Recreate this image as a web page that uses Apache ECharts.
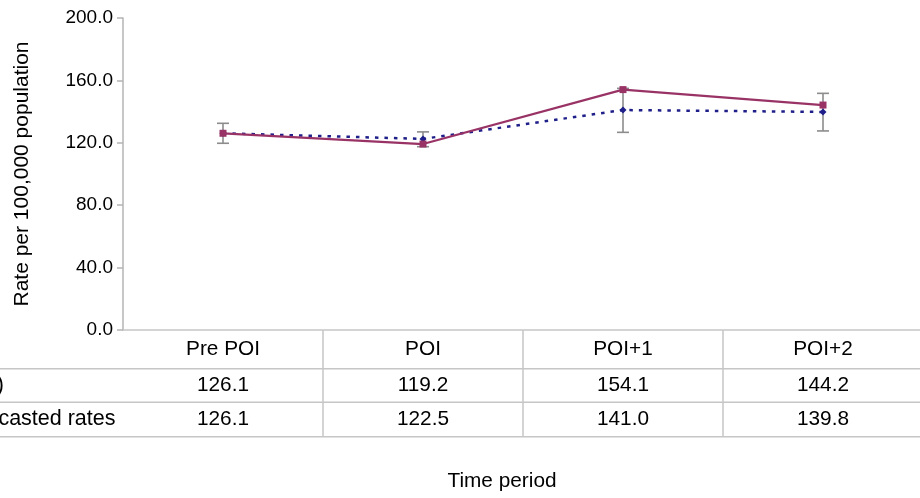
<!DOCTYPE html>
<html>
<head>
<meta charset="utf-8">
<script src="https://cdn.jsdelivr.net/npm/echarts@6/dist/echarts.min.js"></script>
<style>
  html, body { margin: 0; padding: 0; background: #fff; }
  #chart { width: 920px; height: 498px; }
</style>
</head>
<body>
<div id="chart"></div>
<script>
// Time periods around the point of intervention
const categories = ['Pre POI', 'POI', 'POI+1', 'POI+2'];
// Rates per 100,000 population
const observedRates = [126.1, 119.2, 154.1, 144.2];
const forecastRates = [126.1, 122.5, 141.0, 139.8];
// Interval around the forecasted rates
const forecastLow = [119.7, 117.5, 126.7, 127.6];
const forecastHigh = [132.5, 127.0, 154.9, 151.7];
// Data table row labels
const rowLabels = ['Observed rates (actual)', 'Forecasted rates'];
const rowValues = [observedRates, forecastRates];

const FONT = 'Liberation Sans, Arial, sans-serif';
const GRID_LINE = '#c6c6c6';
const TABLE_FONT = 20.8;

const chart = echarts.init(document.getElementById('chart'), null, { renderer: 'canvas' });

const errorBarData = categories.map((c, i) => [i, forecastLow[i], forecastHigh[i]]);

chart.setOption({
  animation: false,
  backgroundColor: '#fff',
  grid: { left: 123, top: 18, width: 800, height: 312, containLabel: false, outerBoundsMode: 'none' },
  xAxis: {
    type: 'category',
    data: categories,
    boundaryGap: true,
    axisLine: { lineStyle: { color: GRID_LINE, width: 1.5 } },
    axisTick: { show: false },
    axisLabel: { show: false },
    splitLine: { show: false }
  },
  yAxis: {
    type: 'value',
    min: 0,
    max: 200,
    interval: 40,
    name: 'Rate per 100,000 population',
    nameLocation: 'middle',
    nameRotate: 90,
    nameGap: 90,
    nameTextStyle: { fontFamily: FONT, fontSize: 21, color: '#000' },
    axisLine: { show: true, lineStyle: { color: '#b4b4b4', width: 1.5 } },
    axisTick: { show: true, length: 6, lineStyle: { color: '#b4b4b4', width: 1.5 } },
    axisLabel: {
      formatter: v => v.toFixed(1),
      fontFamily: FONT, fontSize: 19, color: '#000', margin: 10
    },
    splitLine: { show: false }
  },
  series: [
    {
      name: 'Forecast interval',
      type: 'custom',
      z: 1,
      data: errorBarData,
      renderItem: function (params, api) {
        const x = api.value(0);
        const lo = api.coord([x, api.value(1)]);
        const hi = api.coord([x, api.value(2)]);
        const cap = 6;
        const style = { stroke: '#8c8c8c', lineWidth: 1.6 };
        return {
          type: 'group',
          children: [
            { type: 'line', shape: { x1: hi[0], y1: hi[1], x2: lo[0], y2: lo[1] }, style },
            { type: 'line', shape: { x1: hi[0] - cap, y1: hi[1], x2: hi[0] + cap, y2: hi[1] }, style },
            { type: 'line', shape: { x1: lo[0] - cap, y1: lo[1], x2: lo[0] + cap, y2: lo[1] }, style }
          ]
        };
      }
    },
    {
      name: rowLabels[1],
      type: 'line',
      z: 3,
      data: forecastRates,
      symbol: 'diamond',
      symbolSize: 7,
      itemStyle: { color: '#1f1f8a' },
      lineStyle: { color: '#1f1f8a', width: 2.5, type: [3.5, 6] }
    },
    {
      name: rowLabels[0],
      type: 'line',
      z: 4,
      data: observedRates,
      symbol: 'rect',
      symbolSize: 7,
      itemStyle: { color: '#993366' },
      lineStyle: { color: '#993366', width: 2.2 }
    }
  ]
});

// Data table beneath the plot: header row plus one row per series
function drawTable() {
  const axisY = chart.convertToPixel({ yAxisIndex: 0 }, 0);
  const centers = categories.map((c, i) => chart.convertToPixel({ xAxisIndex: 0 }, i));
  const colW = centers.length > 1 ? centers[1] - centers[0] : 200;
  const rowH = [38.7, 33.6, 34.4];
  const rowTops = [axisY, axisY + rowH[0], axisY + rowH[0] + rowH[1]];
  const bottom = rowTops[2] + rowH[2];
  const els = [];

  // horizontal rules below header and each row
  [rowTops[1], rowTops[2], bottom].forEach(y => {
    els.push({ type: 'line', shape: { x1: 0, y1: y, x2: 920, y2: y },
      style: { stroke: GRID_LINE, lineWidth: 1.5 }, silent: true });
  });
  // vertical rules between columns
  centers.forEach((cx, i) => {
    if (i === 0) return;
    const x = cx - colW / 2;
    els.push({ type: 'line', shape: { x1: x, y1: axisY, x2: x, y2: bottom },
      style: { stroke: GRID_LINE, lineWidth: 1.5 }, silent: true });
  });
  const textStyle = (txt, x, y, align, size) => ({
    type: 'text', x, y, silent: true,
    style: { text: txt, fontFamily: FONT, fontSize: size || TABLE_FONT, fill: '#000', align: align || 'center', verticalAlign: 'middle' }
  });
  // header
  categories.forEach((c, i) => els.push(textStyle(c, centers[i], rowTops[0] + rowH[0] / 2)));
  // rows
  rowValues.forEach((vals, r) => {
    const cy = rowTops[r + 1] + rowH[r + 1] / 2;
    vals.forEach((v, i) => els.push(textStyle(v.toFixed(1), centers[i], cy)));
  });
  // row labels, partly outside the canvas on the left
  els.push(textStyle(rowLabels[0], 4, rowTops[1] + rowH[1] / 2, 'right', 21.5));
  els.push(textStyle(rowLabels[1], 115.5, rowTops[2] + rowH[2] / 2, 'right', 21.5));
  // horizontal axis title
  els.push(textStyle('Time period', 502, 481));

  chart.setOption({ graphic: { elements: els } });
}
drawTable();
</script>
</body>
</html>
